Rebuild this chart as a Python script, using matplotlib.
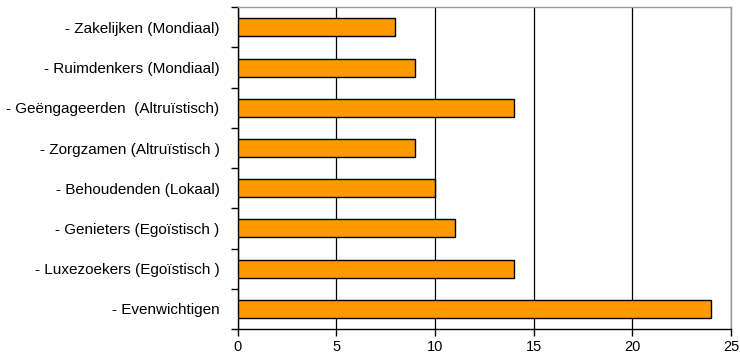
import matplotlib.pyplot as plt
import numpy as np

# categories listed bottom to top
groups = ['- Evenwichtigen', '- Luxezoekers (Egoïstisch )', '- Genieters (Egoïstisch )',
          '- Behoudenden (Lokaal)', '- Zorgzamen (Altruïstisch )',
          '- Geëngageerden  (Altruïstisch)', '- Ruimdenkers (Mondiaal)',
          '- Zakelijken (Mondiaal)']
scores = [24, 14, 11, 10, 9, 14, 9, 8]
xticks = [0, 5, 10, 15, 20, 25]

plt.rcParams['font.family'] = ['Liberation Sans', 'DejaVu Sans']

fig = plt.figure(figsize=(7.4, 3.54), dpi=100)
ax = fig.add_axes([0.321, 0.0706, 0.667, 0.909])

pos = np.arange(len(groups))
ax.barh(pos, scores, height=0.45, color='#FF9900', edgecolor='black', linewidth=1, zorder=3)

ax.set_xlim(0, 25)
ax.set_ylim(-0.5, len(groups) - 0.5)
ax.set_xticks(xticks)
ax.set_xticklabels([str(t) for t in xticks], fontsize=10.5)
ax.set_yticks(pos)
ax.set_yticklabels(groups, fontsize=11)
ax.tick_params(axis='y', which='major', length=0, pad=13)
ax.set_yticks(np.arange(-0.5, len(groups), 1), minor=True)
ax.tick_params(axis='y', which='minor', length=5, width=1, direction='out')
ax.tick_params(axis='x', length=5, width=1, direction='out', pad=3)

ax.grid(axis='x', color='black', linewidth=0.9, zorder=0)
for side in ['top', 'right']:
    ax.spines[side].set_color('#999999')
    ax.spines[side].set_linewidth(1)
for side in ['left', 'bottom']:
    ax.spines[side].set_color('black')
    ax.spines[side].set_linewidth(1)

fig.savefig('out.png', dpi=100)
